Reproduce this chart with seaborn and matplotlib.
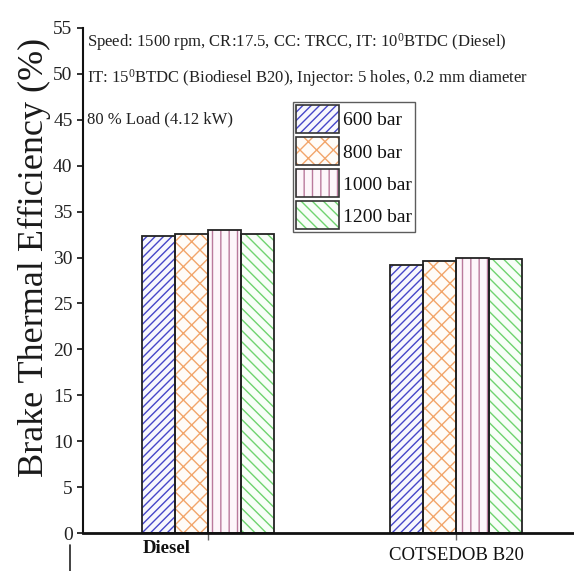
import matplotlib
matplotlib.use("Agg")
import matplotlib.pyplot as plt
from matplotlib.patches import Patch, Rectangle
from matplotlib.legend_handler import HandlerTuple
from matplotlib.lines import Line2D
from matplotlib.transforms import ScaledTranslation
import seaborn as sns
import pandas as pd

# Brake thermal efficiency (%) at 80 % load for each injection pressure
fuels = ["Diesel", "COTSEDOB B20"]
pressures = ["600 bar", "800 bar", "1000 bar", "1200 bar"]
bte_diesel = [32.4, 32.6, 33.0, 32.6]
bte_b20 = [29.2, 29.6, 30.0, 29.8]
yticks = [0, 5, 10, 15, 20, 25, 30, 35, 40, 45, 50, 55]

# hatch pattern and hatch colour per injection pressure
hatches = ["////", "xx", "||", "\\\\\\"]
hatch_colors = ["#4646c8", "#f2a56a", "#b97a9c", "#6fd36f"]
fills = ["#f7f7fd", "#fffcf8", "#fdf6fa", "#f8fef8"]

sns.set_theme(style="ticks")
plt.rcParams["font.family"] = ["Liberation Serif", "DejaVu Serif"]
plt.rcParams["mathtext.default"] = "regular"
plt.rcParams["hatch.linewidth"] = 1.0

rows = []
for fuel, vals in zip(fuels, [bte_diesel, bte_b20]):
    for p, v in zip(pressures, vals):
        rows.append({"fuel": fuel, "pressure": p, "bte": v})
df = pd.DataFrame(rows)

fig = plt.figure(figsize=(5.74, 5.71), dpi=100)
ax = fig.add_axes([83 / 574, 38 / 571, 491 / 574, 505 / 571])

sns.barplot(data=df, x="fuel", y="bte", hue="pressure", order=fuels,
            hue_order=pressures, width=0.536, gap=0, color="white",
            legend=False, ax=ax, errorbar=None)

for cont, h, hc, fc in zip(ax.containers, hatches, hatch_colors, fills):
    for bar in cont:
        bar.set_hatch(h)
        bar.set_edgecolor(hc)
        bar.set_facecolor(fc)
        bar.set_linewidth(0)
        ax.add_patch(Rectangle((bar.get_x(), bar.get_y()), bar.get_width(),
                               bar.get_height(), fill=False, edgecolor="#222222",
                               linewidth=1.3, zorder=bar.get_zorder() + 0.1))

ax.set_xlim(-0.504, 1.476)
ax.set_ylim(0, 55)
ax.set_yticks(yticks)
ax.set_xlabel("")
ax.set_ylabel("Brake Thermal Efficiency (%)", fontsize=26, color="#1a1a1a")
ax.yaxis.set_label_coords(-0.066, 0.545)

for side in ["top", "right"]:
    ax.spines[side].set_visible(False)
ax.spines["left"].set_linewidth(1.5)
ax.spines["left"].set_color("#111111")
ax.spines["bottom"].set_linewidth(2.0)
ax.spines["bottom"].set_color("#111111")

ax.tick_params(axis="y", direction="out", length=4.5, width=1.3,
               labelsize=14, pad=3, colors="#222222")
ax.tick_params(axis="x", direction="inout", length=10, width=1.0,
               color="#666666", labelsize=13.5, pad=5, labelcolor="#111111")

xt = ax.get_xticklabels()
xt[0].set_fontweight("bold")
xt[0].set_transform(xt[0].get_transform() +
                    ScaledTranslation(-0.41, 0.07, fig.dpi_scale_trans))

# test conditions
notes = [
    "Speed: 1500 rpm, CR:17.5, CC: TRCC, IT: 10$^{0}$BTDC (Diesel)",
    "IT: 15$^{0}$BTDC (Biodiesel B20), Injector: 5 holes, 0.2 mm diameter",
    "80 % Load (4.12 kW)",
]
for txt, yy in zip(notes, [0.962, 0.891, 0.812]):
    ax.text(0.008, yy, txt, transform=ax.transAxes, fontsize=12,
            va="baseline", ha="left", color="#222222")

handles = []
for h, hc, fc in zip(hatches, hatch_colors, fills):
    handles.append((Patch(facecolor=fc, edgecolor=hc, hatch=h, linewidth=0),
                    Patch(fill=False, edgecolor="#333333", linewidth=1.2)))
leg = ax.legend(handles, pressures, handler_map={tuple: HandlerTuple(ndivide=1)},
                loc="upper left", bbox_to_anchor=(0.428, 0.853), fontsize=14,
                handlelength=2.2, handleheight=1.85, labelspacing=0.2,
                handletextpad=0.2, borderpad=0.15, borderaxespad=0,
                frameon=True, fancybox=False)
leg.get_frame().set_edgecolor("#333333")
leg.get_frame().set_linewidth(1.0)
for t in leg.get_texts():
    t.set_color("#111111")

fig.add_artist(Line2D([70 / 574, 70 / 574], [0, 26 / 571],
                      transform=fig.transFigure, color="#222222", linewidth=1.2))

fig.savefig("out.png", dpi=100, facecolor="white")
